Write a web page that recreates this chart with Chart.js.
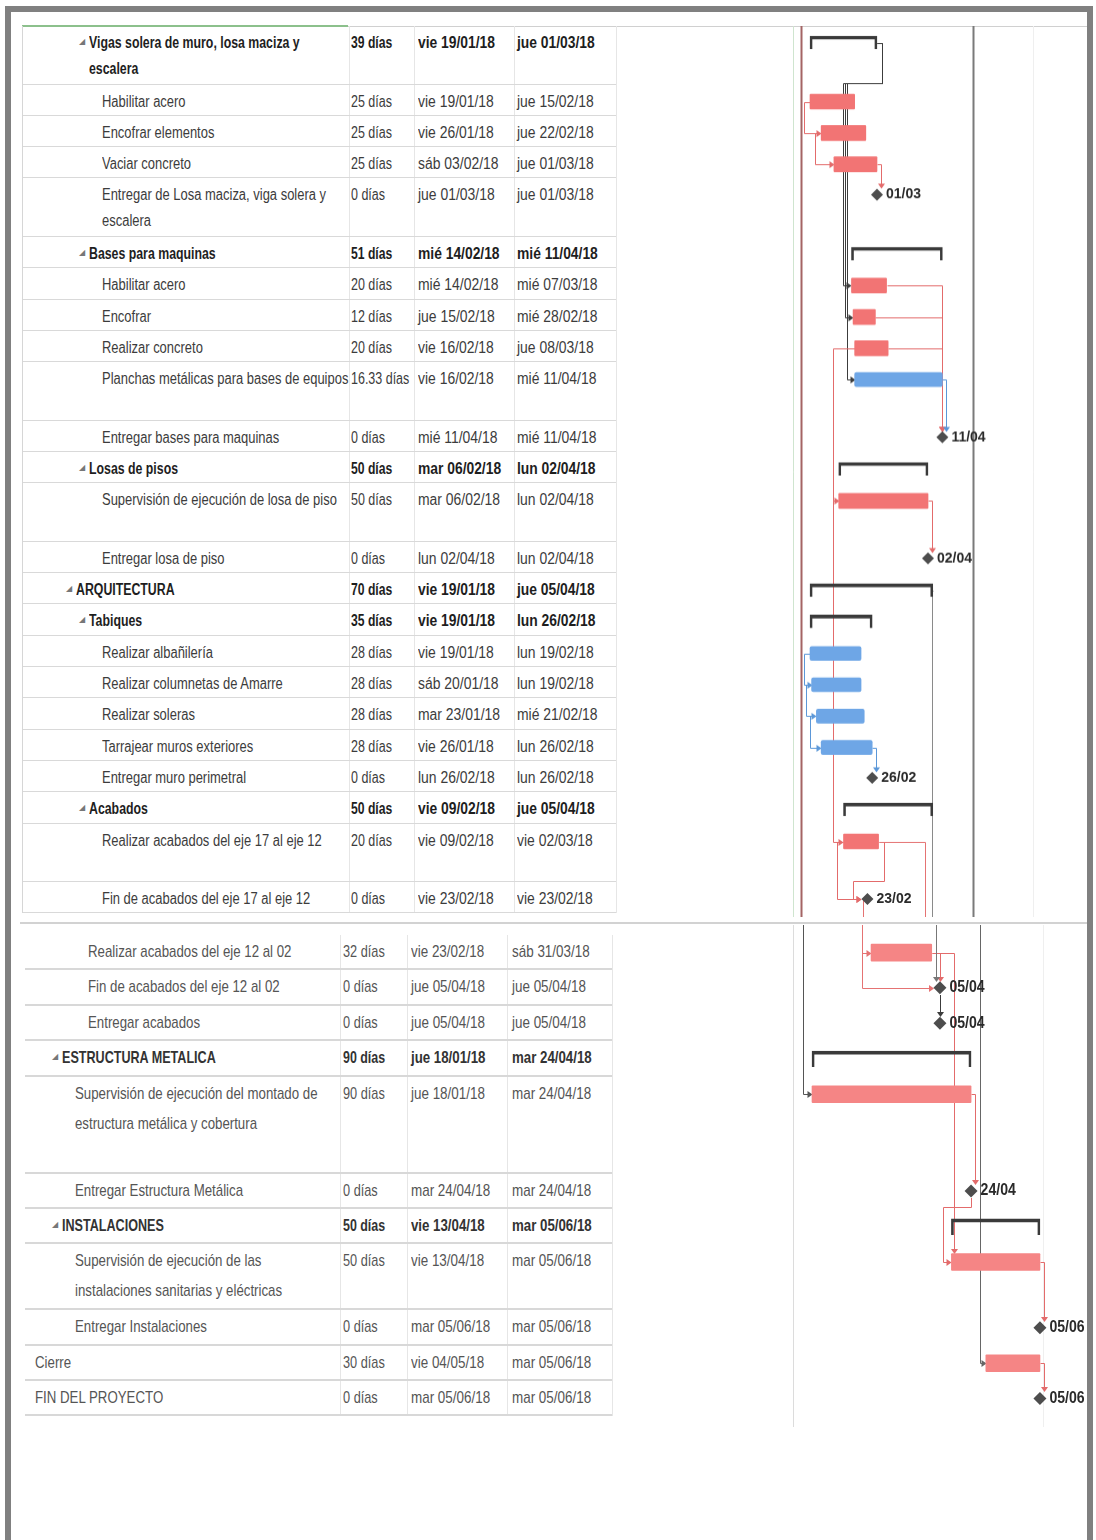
<!DOCTYPE html>
<html><head><meta charset="utf-8">
<script src="https://cdn.jsdelivr.net/npm/chart.js@4.4.1/dist/chart.umd.min.js"></script>
<style>
html,body{margin:0;padding:0;background:#fff;}
#page{position:relative;width:1096px;height:1540px;overflow:hidden;background:#fff;}
#frame{position:absolute;left:5px;top:6px;width:1088px;height:1600px;border:6px solid #808080;box-sizing:border-box;}
.tbl{position:absolute;}
.row{position:absolute;left:0;}
.cell{position:absolute;top:0;white-space:pre;transform-origin:0 0;}
.hl{position:absolute;}
.vl{position:absolute;}
.cw{position:absolute;}
.tri{font-size:8px;color:#777;position:absolute;}
</style></head>
<body><div id="page">
<div id="frame"></div>
<div class="hl" style="left:22px;top:25px;width:326px;height:2px;background:#8cc08c"></div>
<div class="hl" style="left:348px;top:26px;width:739px;height:1px;background:#d0d0d0"></div>
<div class="hl" style="left:20px;top:922px;width:1067px;height:2px;background:#d2d2d2"></div>
<div id="tblTop" class="tbl"></div>
<div id="tblBot" class="tbl"></div>
<div class="cw" id="wTop"><canvas id="cTop"></canvas></div>
<div class="cw" id="wBot"><canvas id="cBot"></canvas></div>
</div>
<script>
// ---------------- DATA: upper part ----------------
const topNames = [
 "Vigas solera de muro, losa maciza y\nescalera","Habilitar acero","Encofrar elementos","Vaciar concreto",
 "Entregar de Losa maciza, viga solera y\nescalera","Bases para maquinas","Habilitar acero","Encofrar",
 "Realizar concreto","Planchas metálicas para bases de equipos","Entregar bases para maquinas","Losas de pisos",
 "Supervisión de ejecución de losa de piso","Entregar losa de piso","ARQUITECTURA","Tabiques",
 "Realizar albañilería","Realizar columnetas de Amarre","Realizar soleras","Tarrajear muros exteriores",
 "Entregar muro perimetral","Acabados","Realizar acabados del eje 17 al eje 12","Fin de acabados del eje 17 al eje 12"];
const topLevels = [2,3,3,3,3,2,3,3,3,3,3,2,3,3,1,2,3,3,3,3,3,2,3,3];
const topKinds = ["summary","task","task","task","milestone","summary","task","task","task","task","milestone","summary",
 "task","milestone","summary","summary","task","task","task","task","milestone","summary","task","milestone"];
const topColors = ["","red","red","red","","","red","red","red","blue","","","red","","","","blue","blue","blue","blue","","","red",""];
const topDurations = ["39 días","25 días","25 días","25 días","0 días","51 días","20 días","12 días","20 días","16.33 días","0 días","50 días",
 "50 días","0 días","70 días","35 días","28 días","28 días","28 días","28 días","0 días","50 días","20 días","0 días"];
const topStarts = ["vie 19/01/18","vie 19/01/18","vie 26/01/18","sáb 03/02/18","jue 01/03/18","mié 14/02/18","mié 14/02/18","jue 15/02/18",
 "vie 16/02/18","vie 16/02/18","mié 11/04/18","mar 06/02/18","mar 06/02/18","lun 02/04/18","vie 19/01/18","vie 19/01/18",
 "vie 19/01/18","sáb 20/01/18","mar 23/01/18","vie 26/01/18","lun 26/02/18","vie 09/02/18","vie 09/02/18","vie 23/02/18"];
const topFinishes = ["jue 01/03/18","jue 15/02/18","jue 22/02/18","jue 01/03/18","jue 01/03/18","mié 11/04/18","mié 07/03/18","mié 28/02/18",
 "jue 08/03/18","mié 11/04/18","mié 11/04/18","lun 02/04/18","lun 02/04/18","lun 02/04/18","jue 05/04/18","lun 26/02/18",
 "lun 19/02/18","lun 19/02/18","mié 21/02/18","lun 26/02/18","lun 26/02/18","jue 05/04/18","vie 02/03/18","vie 23/02/18"];
const topSpans = [1.87,1,1,1,1.87,1,1,1,1,1.87,1,1,1.87,1,1,1,1,1,1,1,1,1,1.87,1];
const topLinks = [[1,2,"SS"],[2,3,"SS"],[3,4,"FS"],[0,6,"FS"],[0,7,"FS"],[0,9,"FS"],[6,10,"FS"],[7,10,"FS"],[8,10,"FS"],
 [9,10,"FS"],[8,12,"SS"],[12,13,"FS"],[12,22,"SS"],[16,17,"SS"],[17,18,"SS"],[18,19,"SS"],[19,20,"FS"],[22,23,"FS"],[22,23,"SS"]];
const topOutLinks = [{from:14, day:94.5, color:"#8a8a8a"},{from:22, day:90, color:"#e57373"},{from:23, day:51.5, color:"#e57373"}];
const topDayLines = [{day:7.3, color:"#cfe5cf", w:1},{day:12.4, color:"#a46464", w:2},{day:120.2, color:"#7a7a7a", w:2},{day:158, color:"#efefef", w:1}];

// ---------------- DATA: lower part ----------------
const botNames = ["Realizar acabados del eje 12 al 02","Fin de acabados del eje 12 al 02","Entregar acabados","ESTRUCTURA METALICA",
 "Supervisión de ejecución del montado de\nestructura metálica y cobertura","Entregar Estructura Metálica","INSTALACIONES",
 "Supervisión de ejecución de las\ninstalaciones sanitarias y eléctricas","Entregar Instalaciones","Cierre","FIN DEL PROYECTO"];
const botLevels = [3,3,3,1,2,2,1,2,2,0,0];
const botKinds = ["task","milestone","milestone","summary","task","milestone","summary","task","milestone","task","milestone"];
const botColors = ["red","","","","red","","","red","","red",""];
const botDurations = ["32 días","0 días","0 días","90 días","90 días","0 días","50 días","50 días","0 días","30 días","0 días"];
const botStarts = ["vie 23/02/18","jue 05/04/18","jue 05/04/18","jue 18/01/18","jue 18/01/18","mar 24/04/18","vie 13/04/18",
 "vie 13/04/18","mar 05/06/18","vie 04/05/18","mar 05/06/18"];
const botFinishes = ["sáb 31/03/18","jue 05/04/18","jue 05/04/18","mar 24/04/18","mar 24/04/18","mar 24/04/18","mar 05/06/18",
 "mar 05/06/18","mar 05/06/18","mar 05/06/18","mar 05/06/18"];
const botSpans = [1,1,1,1,2.74,1,1,1.86,1,1,1];
const botLinks = [[0,1,"FS"],[1,2,"FS"],[0,7,"FS"],[4,5,"FS"],[5,7,"FS"],[7,8,"FS"],[9,10,"FS"]];
const botInLinks = [{day:47.5, to:0, color:"#e57373", mode:"right"},{day:47.5, to:1, color:"#e57373", mode:"right"},
 {day:92.5, to:1, color:"#777", mode:"down"},{day:11.5, to:4, color:"#555", mode:"right"},{day:119.5, to:9, color:"#666", mode:"right"}];
const botDayLines = [{day:5.4, color:"#dcdcdc", w:1},{day:158, color:"#efefef", w:1}];

// ---------------- layout / style ----------------
const FONT = "'Liberation Sans',Arial,sans-serif";
const LINKCOL = {red:"#e36b6b", blue:"#5b97d8", dark:"#3c3c3c"};

const secTop = {
  names:topNames, levels:topLevels, kinds:topKinds, colors:topColors, durs:topDurations, starts:topStarts, fins:topFinishes,
  spans:topSpans, links:topLinks, outLinks:topOutLinks, inLinks:[], dayLines:topDayLines,
  unit:31.3, tblLeft:22, tblTop:26, tblWidth:593, indent:[62,75,88,101], colX:[350,417,516], colLines:[348,413,513,615],
  fontSize:16, squeeze:[0.81,0.78,0.87,0.87], boldSqueeze:[0.77,0.76,0.865,0.865],
  lineH:26, textTop:4, color:"#3c3c3c", boldColor:"#1e1e1e", rowLine:"1px solid #d9d9d9", tblBorder:true,
  chartLeft:617, chartWidth:470, yMin:0, yMax:28.45, xRef:[18,810], pxPerDay:1.595,
  barOff:17, barH:15, sumOff:16.5, sumH:13, msOff:16, msR:6, labelFont:14, labelSqueeze:1, barCol:{red:"#f27474", blue:"#6ea6e6"}
};
const secBot = {
  names:botNames, levels:botLevels, kinds:botKinds, colors:botColors, durs:botDurations, starts:botStarts, fins:botFinishes,
  spans:botSpans, links:botLinks, outLinks:[], inLinks:botInLinks, dayLines:botDayLines,
  unit:35.4, tblLeft:25, tblTop:935, tblWidth:587, indent:[35,62,75,88], colX:[343,411,512], colLines:[340,407,507,612],
  fontSize:17, squeeze:[0.78,0.75,0.79,0.79], boldSqueeze:[0.74,0.73,0.78,0.78],
  lineH:30, textTop:2, color:"#555", boldColor:"#333", rowLine:"2px solid #d8d8d8", tblBorder:false,
  chartLeft:617, chartWidth:470, yMin:-0.28, yMax:13.9, xRef:[17,812], pxPerDay:1.64,
  barOff:17.7, barH:17, sumOff:18, sumH:16, msOff:17.5, msR:6.5, labelFont:16, labelSqueeze:0.88, barCol:{red:"#f58585", blue:"#6ea6e6"}
};

function dayOf(s){ const p = s.split(" ")[1].split("/"); return (Date.UTC(2000+ +p[2], +p[1]-1, +p[0]) - Date.UTC(2018,0,1))/86400000; }
function ddmm(s){ const p = s.split(" ")[1].split("/"); return p[0]+"/"+p[1]; }

function buildTable(el, sec){
  el.style.left = sec.tblLeft+"px"; el.style.top = sec.tblTop+"px"; el.style.width = sec.tblWidth+"px";
  let cum = 0;
  const total = sec.spans.reduce((a,b)=>a+b,0)*sec.unit;
  el.style.height = total+"px";
  if (sec.tblBorder){ el.style.borderLeft = "1px solid #d6d6d6"; }
  sec.colLines.forEach(x=>{ const v=document.createElement("div"); v.className="vl";
    v.style.cssText=`left:${x-sec.tblLeft}px;top:0;width:1px;height:${total}px;background:#e6e6e6`; el.appendChild(v); });
  sec.names.forEach((nm,i)=>{
    const h = sec.spans[i]*sec.unit;
    const row = document.createElement("div"); row.className="row";
    row.style.cssText = `top:${cum}px;height:${h}px;width:${sec.tblWidth}px;box-sizing:border-box;border-bottom:${sec.rowLine};`;
    const bold = sec.kinds[i]==="summary";
    const sq = bold ? sec.boldSqueeze : sec.squeeze;
    const style = `font-family:${FONT};font-size:${sec.fontSize}px;line-height:${sec.lineH}px;top:${sec.textTop}px;color:${bold?sec.boldColor:sec.color};font-weight:${bold?"bold":"normal"};`;
    const nx = sec.indent[sec.levels[i]] - sec.tblLeft;
    if (bold){ const t=document.createElement("span"); t.className="tri"; t.textContent="◢";
      t.style.left=(nx-10)+"px"; t.style.top=(sec.textTop+ (sec.lineH/2) - 6)+"px"; t.style.lineHeight="10px"; row.appendChild(t); }
    const cells = [[nx, nm],[sec.colX[0]-sec.tblLeft, sec.durs[i]],[sec.colX[1]-sec.tblLeft, sec.starts[i]],[sec.colX[2]-sec.tblLeft, sec.fins[i]]];
    cells.forEach(([x,txt],k)=>{ const c=document.createElement("div"); c.className="cell";
      c.style.cssText=style+`left:${x}px;transform:scaleX(${sq[k]});`; c.textContent=txt; row.appendChild(c); });
    el.appendChild(row);
    cum += h;
  });
}

function rowsOf(sec){
  let cum = 0; const rows=[];
  sec.names.forEach((n,i)=>{
    const s = dayOf(sec.starts[i]), e = dayOf(sec.fins[i])+1;
    rows.push({kind:sec.kinds[i], color:sec.colors[i]||"dark", s, e, m:e, top:cum, bottom:cum+sec.spans[i],
      yc: cum + (sec.kinds[i]==="summary"?sec.sumOff:sec.kinds[i]==="milestone"?sec.msOff:sec.barOff)/sec.unit,
      label: ddmm(sec.fins[i])});
    cum += sec.spans[i];
  });
  return rows;
}

function makePlugin(sec, rows){
  function arrowDown(ctx,x,y){ ctx.beginPath(); ctx.moveTo(x,y); ctx.lineTo(x-3.5,y-5); ctx.lineTo(x+3.5,y-5); ctx.closePath(); ctx.fill(); }
  function arrowRight(ctx,x,y){ ctx.beginPath(); ctx.moveTo(x,y); ctx.lineTo(x-5,y-3.5); ctx.lineTo(x-5,y+3.5); ctx.closePath(); ctx.fill(); }
  function poly(ctx,pts){ ctx.beginPath(); ctx.moveTo(pts[0][0],pts[0][1]); for(let k=1;k<pts.length;k++) ctx.lineTo(pts[k][0],pts[k][1]); ctx.stroke(); }
  return {
    id:"gantt"+sec.tblTop,
    beforeDatasetsDraw(chart){
      const {ctx, chartArea:ca, scales:{x, y}} = chart;
      const X = v=>Math.round(x.getPixelForValue(v))+0.5, Y = v=>Math.round(y.getPixelForValue(v))+0.5;
      ctx.save();
      sec.dayLines.forEach(l=>{ ctx.strokeStyle=l.color; ctx.lineWidth=l.w; const px=X(l.day); poly(ctx,[[px,ca.top],[px,ca.bottom]]); });
      ctx.lineWidth = 1;
      const half = r => r.kind==="milestone" ? sec.msR : r.kind==="summary" ? sec.sumH/2 : sec.barH/2;
      sec.links.forEach(([a,b,t])=>{
        const p=rows[a], q=rows[b];
        const col = LINKCOL[p.kind==="task"?p.color:(p.kind==="milestone"&&q.color==="red"?"red":"dark")];
        ctx.strokeStyle=col; ctx.fillStyle=col;
        const y0=Y(p.yc), y1=Y(q.yc);
        const x1 = q.kind==="milestone"? X(q.m) : X(q.s);
        if (t==="SS"){
          const x0=X(p.s), xv=Math.min(x0,x1)-6, tip = q.kind==="milestone"? x1-sec.msR : x1;
          poly(ctx,[[x0,y0],[xv,y0],[xv,y1],[tip-4,y1]]); arrowRight(ctx,tip,y1); return;
        }
        const x0 = X(p.kind==="milestone"?p.m:p.e);
        if (p.kind==="milestone" && Math.abs(x1-x0)<6){
          poly(ctx,[[x0,y0+sec.msR],[x0,y1-half(q)-4]]); arrowDown(ctx,x0,y1-half(q)); return;
        }
        if (q.kind==="milestone" && x1>=x0-2){
          const xv=Math.max(x1,x0+4); poly(ctx,[[x0,y0],[xv,y0],[xv,y1-half(q)-4]]); arrowDown(ctx,xv,y1-half(q)); return;
        }
        if (x1>=x0+6){
          const xv=x1+3; poly(ctx,[[x0,y0],[xv,y0],[xv,y1-half(q)-4]]); arrowDown(ctx,xv,y1-half(q)); return;
        }
        const yb = Y(p.bottom)-2, tip = q.kind==="milestone"? x1-sec.msR : x1;
        const start = p.kind==="milestone" ? [[x0,y0+sec.msR],[x0,yb]] : [[x0,y0],[x0+5,y0],[x0+5,yb]];
        poly(ctx,[...start,[tip-8,yb],[tip-8,y1],[tip-4,y1]]); arrowRight(ctx,tip,y1);
      });
      sec.outLinks.forEach(o=>{
        const p=rows[o.from]; ctx.strokeStyle=o.color;
        const x0=X(p.kind==="milestone"?p.m:p.e), y0=Y(p.yc), xv=X(o.day);
        poly(ctx,[[x0,y0],[xv,y0],[xv,ca.bottom]]);
      });
      sec.inLinks.forEach(o=>{
        const q=rows[o.to]; ctx.strokeStyle=o.color; ctx.fillStyle=o.color;
        const xv=X(o.day), y1=Y(q.yc);
        if (o.mode==="down"){ const yt = y1-half(q); poly(ctx,[[xv,ca.top],[xv,yt-4]]); arrowDown(ctx,xv,yt); return; }
        const tip = q.kind==="milestone"? X(q.m)-sec.msR : X(q.s);
        poly(ctx,[[xv,ca.top],[xv,y1],[tip-4,y1]]); arrowRight(ctx,tip,y1);
      });
      ctx.restore();
    },
    afterDatasetsDraw(chart){
      const {ctx, scales:{x, y}} = chart;
      ctx.save();
      ctx.font = `bold ${sec.labelFont}px ${FONT}`; ctx.fillStyle="#2a2a2a"; ctx.textBaseline="middle"; ctx.textAlign="left";
      rows.forEach(r=>{ if(r.kind==="milestone"){
        ctx.save(); ctx.translate(x.getPixelForValue(r.m)+sec.msR+3, y.getPixelForValue(r.yc)); ctx.scale(sec.labelSqueeze,1);
        ctx.fillText(r.label, 0, 0); ctx.restore(); } });
      ctx.restore();
    }
  };
}

function makeChart(canvas, wrap, sec){
  const rows = rowsOf(sec);
  const H = (sec.yMax-sec.yMin)*sec.unit;
  wrap.style.cssText = `left:${sec.chartLeft}px;top:${sec.tblTop + sec.yMin*sec.unit}px;width:${sec.chartWidth}px;height:${H}px;`;
  const xMin = sec.xRef[0] - (sec.xRef[1]-sec.chartLeft)/sec.pxPerDay;
  const xMax = sec.xRef[0] + (sec.chartLeft+sec.chartWidth-sec.xRef[1])/sec.pxPerDay;
  const red=[], blue=[], sum=[], ms=[];
  rows.forEach(r=>{
    if (r.kind==="summary") sum.push({x:[r.s,r.e], y:r.yc});
    else if (r.kind==="milestone") ms.push({x:r.m, y:r.yc});
    else (r.color==="blue"?blue:red).push({x:[r.s,r.e], y:r.yc});
  });
  return new Chart(canvas, {
    type:"bar",
    data:{datasets:[
      {label:"Tareas", data:red, backgroundColor:sec.barCol.red, barThickness:sec.barH, grouped:false, borderWidth:0, borderRadius:1, borderSkipped:false},
      {label:"Tareas críticas", data:blue, backgroundColor:sec.barCol.blue, barThickness:sec.barH-1, grouped:false, borderWidth:0, borderRadius:2, borderSkipped:false},
      {label:"Resumen", data:sum, backgroundColor:"rgba(0,0,0,0)", borderColor:"#3a3a3a", borderWidth:{top:3,left:2,right:2,bottom:0}, borderSkipped:false, barThickness:sec.sumH, grouped:false},
      {label:"Hitos", type:"line", data:ms, showLine:false, pointStyle:"rectRot", pointRadius:sec.msR, pointBackgroundColor:"#4d4d4d", pointBorderWidth:0, clip:false}
    ]},
    options:{
      indexAxis:"y", responsive:true, maintainAspectRatio:false, animation:false, events:[],
      layout:{padding:0, autoPadding:false},
      plugins:{legend:{display:false}, tooltip:{enabled:false}},
      scales:{
        x:{type:"linear", min:xMin, max:xMax, display:false},
        y:{type:"linear", min:sec.yMin, max:sec.yMax, reverse:true, display:false, offset:false}
      }
    },
    plugins:[makePlugin(sec, rows)]
  });
}

buildTable(document.getElementById("tblTop"), secTop);
buildTable(document.getElementById("tblBot"), secBot);
makeChart(document.getElementById("cTop"), document.getElementById("wTop"), secTop);
makeChart(document.getElementById("cBot"), document.getElementById("wBot"), secBot);
</script>
</body></html>
